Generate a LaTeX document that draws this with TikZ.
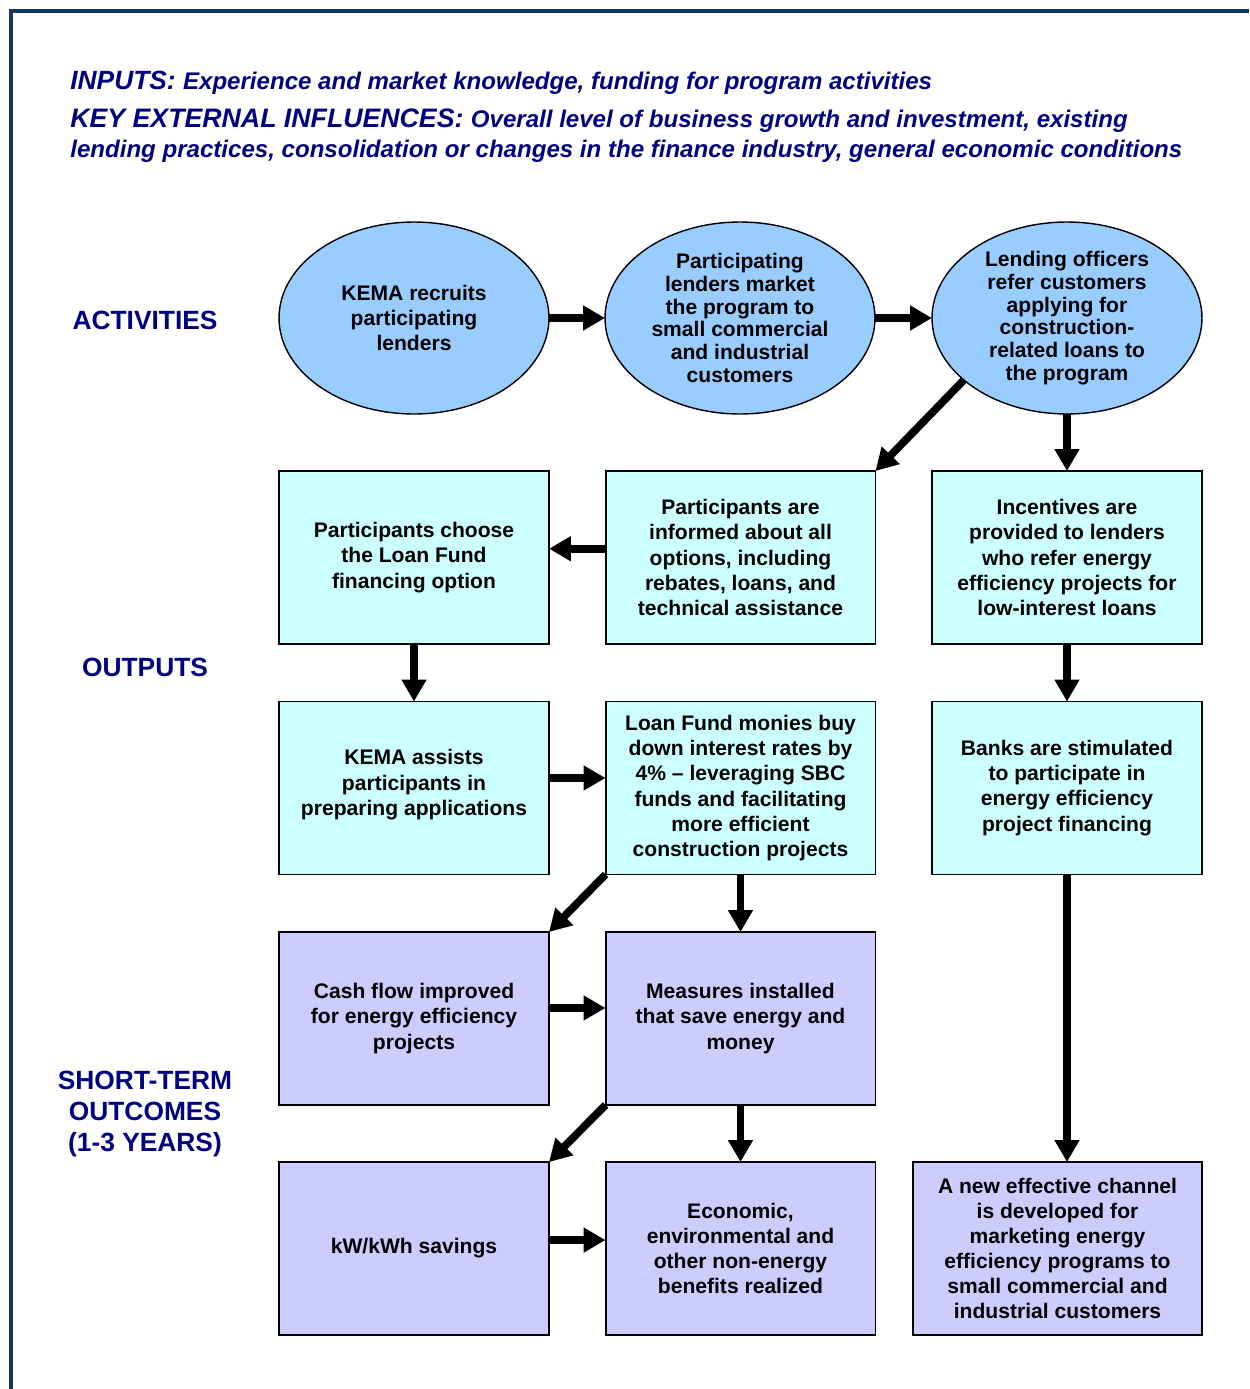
\documentclass[tikz,border=0pt]{standalone}
\usepackage{fontspec}
\setmainfont{Liberation Sans}
\usetikzlibrary{arrows.meta,shapes.geometric,calc}

\definecolor{actfill}{HTML}{99CCFF}
\definecolor{outfill}{HTML}{CCFFFF}
\definecolor{stfill}{HTML}{CCCCFF}
\definecolor{labnavy}{HTML}{000080}
\definecolor{framenavy}{HTML}{17375E}

\begin{document}
\begin{tikzpicture}[x=0.02cm, y=-0.02cm,
    activity/.style={ellipse, draw=black, line width=0.8pt, fill=actfill, outer sep=0pt, inner sep=0pt,
        minimum width=5.4cm, minimum height=3.84cm, align=center,
        font=\bfseries\fontsize{12}{12.9}\selectfont},
    outbox/.style={rectangle, draw=black, line width=1.1pt, fill=outfill, outer sep=0pt,
        minimum width=5.4cm, minimum height=3.46cm, align=center,
        font=\bfseries\fontsize{12}{14.3}\selectfont},
    stbox/.style={outbox, fill=stfill},
    rowlabel/.style={text=labnavy, align=center, font=\bfseries\fontsize{15}{17.6}\selectfont},
    header/.style={anchor=base west, inner sep=0pt, text=labnavy},
    flow/.style={-{Triangle[length=12.5pt,width=13.5pt]}, line width=4.4pt}]

    \useasboundingbox (0,0) rectangle (1249,1389);

    % Frame
    \draw[framenavy, line width=2.2pt] (11,1389) -- (11,11) -- (1249,11);

    % Header
    \node[header] (inputs) at (70,90) {\bfseries\itshape\fontsize{15}{17}\selectfont INPUTS:
        \fontsize{13.7}{16}\selectfont Experience and market knowledge, funding for program activities};
    \node[header] (keyinfl) at (70,128) {\bfseries\itshape\fontsize{15.2}{17}\selectfont KEY EXTERNAL INFLUENCES:
        \fontsize{13.7}{16}\selectfont Overall level of business growth and investment, existing};
    \node[header] (keyinfl2) at (70,157) {\bfseries\itshape\fontsize{13.7}{16}\selectfont lending practices, consolidation or changes in the finance industry, general economic conditions};

    % Row labels
    \node[rowlabel] (lblact) at (145,320) {ACTIVITIES};
    \node[rowlabel] (lblout) at (145,667) {OUTPUTS};
    \node[rowlabel] (lblst) at (145,1114) {SHORT-TERM\\OUTCOMES\\(1-3 YEARS)};

    % Activities
    \node[activity, font=\bfseries\fontsize{12}{14.3}\selectfont] (recruit) at (414,318) {KEMA recruits\\participating\\lenders};
    \node[activity] (market) at (740,318) {Participating\\lenders market\\the program to\\small commercial\\and industrial\\customers};
    \node[activity] (refer) at (1067,318) {Lending officers\\refer customers\\applying for\\construction-\\related loans to\\the program};

    % Outputs
    \node[outbox] (choose) at (414,557.5) {Participants choose\\the Loan Fund\\financing option};
    \node[outbox] (informed) at (740.5,557.5) {Participants are\\informed about all\\options, including\\rebates, loans, and\\technical assistance};
    \node[outbox] (incent) at (1067,557.5) {Incentives are\\provided to lenders\\who refer energy\\efficiency projects for\\low-interest loans};
    \node[outbox] (assist) at (414,788) {KEMA assists\\participants in\\preparing applications\\[-8pt]\mbox{}};
    \node[outbox] (buydown) at (740.5,788) {Loan Fund monies buy\\down interest rates by\\4\% -- leveraging SBC\\funds and facilitating\\more efficient\\construction projects};
    \node[outbox] (banks) at (1067,788) {Banks are stimulated\\to participate in\\energy efficiency\\project financing};

    % Short-term outcomes
    \node[stbox] (cashflow) at (414,1018.5) {Cash flow improved\\for energy efficiency\\projects};
    \node[stbox] (measures) at (740.5,1018.5) {Measures installed\\that save energy and\\money};
    \node[stbox] (savings) at (414,1248.5) {kW/kWh savings};
    \node[stbox] (benefits) at (740.5,1248.5) {Economic,\\environmental and\\other non-energy\\benefits realized};
    \node[stbox, minimum width=5.78cm] (channel) at (1057.5,1248.5) {A new effective channel\\is developed for\\marketing energy\\efficiency programs to\\small commercial and\\industrial customers};

    % Connectors
    \draw[flow] (recruit) -- (market);
    \draw[flow] (market) -- (refer);
    \draw[flow] (refer.211) -- (informed.north east);
    \draw[flow] (refer.south) -- (incent.north);
    \draw[flow] ([yshift=5pt]informed.west) -- ([yshift=5pt]choose.east);
    \draw[flow] (choose.south) -- (assist.north);
    \draw[flow] (incent.south) -- (banks.north);
    \draw[flow] ([yshift=5.7pt]assist.east) -- ([yshift=5.7pt]buydown.west);
    \draw[flow] (buydown.south west) -- (cashflow.north east);
    \draw[flow] (buydown.south) -- (measures.north);
    \draw[flow] ([yshift=6pt]cashflow.east) -- ([yshift=6pt]measures.west);
    \draw[flow] (measures.south west) -- (savings.north east);
    \draw[flow] (measures.south) -- (benefits.north);
    \draw[flow] ([yshift=4.8pt]savings.east) -- ([yshift=4.8pt]benefits.west);
    \draw[flow] (banks.south) -- (banks.south |- channel.north);
\end{tikzpicture}
\end{document}
